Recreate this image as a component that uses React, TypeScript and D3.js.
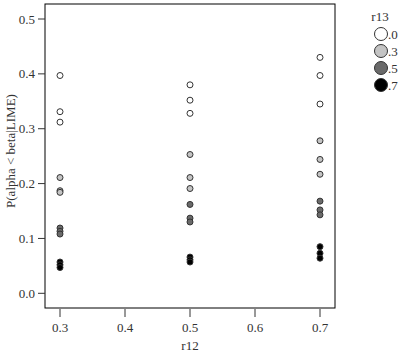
import React from "react";
import * as d3 from "d3";

const r12Values = [0.3, 0.3, 0.3, 0.3, 0.3, 0.3, 0.3, 0.3, 0.3, 0.3, 0.3, 0.3,
  0.5, 0.5, 0.5, 0.5, 0.5, 0.5, 0.5, 0.5, 0.5, 0.5, 0.5, 0.5,
  0.7, 0.7, 0.7, 0.7, 0.7, 0.7, 0.7, 0.7, 0.7, 0.7, 0.7, 0.7];
const r13Values = [0, 0, 0, 0.3, 0.3, 0.3, 0.5, 0.5, 0.5, 0.7, 0.7, 0.7,
  0, 0, 0, 0.3, 0.3, 0.3, 0.5, 0.5, 0.5, 0.7, 0.7, 0.7,
  0, 0, 0, 0.3, 0.3, 0.3, 0.5, 0.5, 0.5, 0.7, 0.7, 0.7];
const pValues = [0.397, 0.331, 0.312, 0.211, 0.187, 0.184, 0.119, 0.113, 0.108, 0.057, 0.052, 0.047,
  0.380, 0.352, 0.328, 0.253, 0.211, 0.191, 0.162, 0.137, 0.130, 0.066, 0.061, 0.057,
  0.430, 0.397, 0.345, 0.278, 0.244, 0.217, 0.168, 0.152, 0.143, 0.085, 0.073, 0.064];

const legendLevels = [0, 0.3, 0.5, 0.7];
const legendLabels = [".0", ".3", ".5", ".7"];
const legendColors = ["#ffffff", "#c4c4c4", "#6a6a6a", "#000000"];
const xTicks = [0.3, 0.4, 0.5, 0.6, 0.7];
const yTicks = [0, 0.1, 0.2, 0.3, 0.4, 0.5];

export default function App() {
  const W = 401, H = 353;
  const left = 45, right = 335, top = 4, bottom = 308;
  const x = d3.scaleLinear().domain([0.3, 0.7]).range([60, 320]);
  const y = d3.scaleLinear().domain([0, 0.5]).range([293.3, 19]);
  const color = d3.scaleOrdinal<number, string>().domain(legendLevels).range(legendColors);
  const ts = { fontFamily: "'Times New Roman', Tinos, 'Liberation Serif', 'Nimbus Roman', 'FreeSerif', serif", fontSize: 13, fill: "#333" } as const;
  return (
    <svg width={W} height={H} style={{ position: "absolute", left: 0, top: 0 }}>
      <rect x={0} y={0} width={W} height={H} fill="#fff" />
      <rect x={left} y={top} width={right - left} height={bottom - top} fill="none" stroke="#000" strokeWidth={1} />
      {yTicks.map((t) => (
        <g key={"y" + t}>
          <line x1={left - 7} x2={left} y1={y(t)} y2={y(t)} stroke="#333" />
          <text x={left - 10} y={y(t)} dy="0.35em" textAnchor="end" style={ts}>{d3.format(".1f")(t)}</text>
        </g>
      ))}
      {xTicks.map((t) => (
        <g key={"x" + t}>
          <line x1={x(t)} x2={x(t)} y1={bottom + 1} y2={bottom + 9} stroke="#333" />
          <text x={x(t)} y={bottom + 24} textAnchor="middle" style={ts}>{d3.format(".1f")(t)}</text>
        </g>
      ))}
      <text x={(left + right) / 2} y={350} textAnchor="middle" style={ts}>r12</text>
      <text transform={`translate(15,${(top + bottom) / 2 - 5}) rotate(-90)`} textAnchor="middle" style={ts}>P(alpha &lt; beta|LIME)</text>
      {pValues.map((p, i) => (
        <circle key={i} cx={x(r12Values[i])} cy={y(p)} r={3} fill={color(r13Values[i])} stroke="#333" strokeWidth={1} />
      ))}
      <text x={380} y={21} textAnchor="middle" style={ts}>r13</text>
      {legendLevels.map((l, i) => (
        <g key={"l" + l}>
          <circle cx={381} cy={34 + i * 17} r={6.5} fill={legendColors[i]} stroke="#333" strokeWidth={1} />
          <text x={388} y={34 + i * 17} dy="0.35em" style={ts}>{legendLabels[i]}</text>
        </g>
      ))}
    </svg>
  );
}
